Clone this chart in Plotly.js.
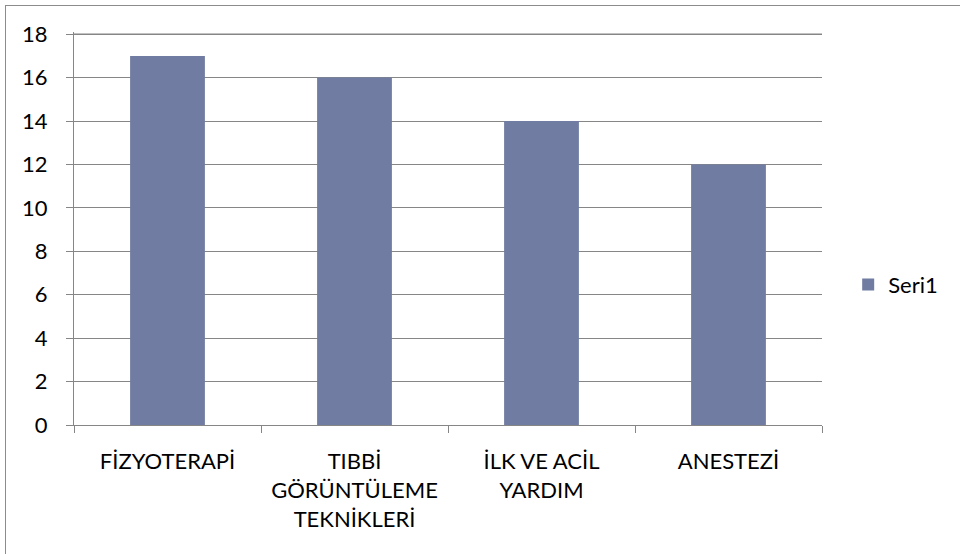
<!DOCTYPE html>
<html>
<head>
<meta charset="utf-8">
<script src="https://cdn.plot.ly/plotly-3.0.1.min.js"></script>
<style>
html,body{margin:0;padding:0;overflow:hidden;background:#fff;}
#frame{position:absolute;left:5px;top:5px;width:1000px;height:600px;border:1px solid #8c8c8c;pointer-events:none;z-index:10;}
#chart{position:absolute;left:0;top:0;width:960px;height:554px;}
</style>
</head>
<body>
<div id="chart"></div>
<div id="frame"></div>
<script>
const categories = ["FİZYOTERAPİ", "TIBBİ<br>GÖRÜNTÜLEME<br>TEKNİKLERİ", "İLK VE ACİL<br>YARDIM", "ANESTEZİ"];
const seri1 = [17, 16, 14, 12];
const seriesName = "Seri1";
const yTicks = [0, 2, 4, 6, 8, 10, 12, 14, 16, 18];

const font = {family: "Lato, 'Open Sans', sans-serif", size: 22, color: "#000"};
const gridColor = "#868686";
const yTop = yTicks[yTicks.length - 1];

Plotly.newPlot("chart", [{
  type: "bar",
  x: categories,
  y: seri1,
  name: seriesName,
  marker: {color: "#717ca2"},
  showlegend: true
}], {
  width: 960, height: 554,
  margin: {l: 74, r: 138, t: 31.825, b: 128.5, autoexpand: false},
  paper_bgcolor: "#fff", plot_bgcolor: "#fff",
  font: font,
  bargap: 0.6,
  xaxis: {
    type: "category",
    showline: true, linecolor: gridColor, linewidth: 1,
    ticks: "outside", ticklen: 7, tickcolor: gridColor, tickson: "boundaries",
    showgrid: false, zeroline: false,
    tickfont: font, ticklabelstandoff: 17,
    fixedrange: true
  },
  yaxis: {
    range: [0, 18.1], tickvals: yTicks,
    showline: true, linecolor: gridColor, linewidth: 1,
    ticks: "outside", ticklen: 7, tickcolor: gridColor,
    showgrid: true, gridcolor: gridColor, gridwidth: 1,
    zeroline: false,
    tickfont: font, ticklabelstandoff: 14,
    fixedrange: true
  },
  shapes: [{
    type: "line", xref: "paper", yref: "y", x0: 0, x1: 1, y0: yTop, y1: yTop,
    line: {color: gridColor, width: 1.5}, layer: "below"
  }],
  legend: {x: 1.035, xanchor: "left", y: 0.357, yanchor: "middle", font: font, bgcolor: "rgba(0,0,0,0)"},
  showlegend: true
}, {displayModeBar: false, staticPlot: true});
</script>
</body>
</html>
